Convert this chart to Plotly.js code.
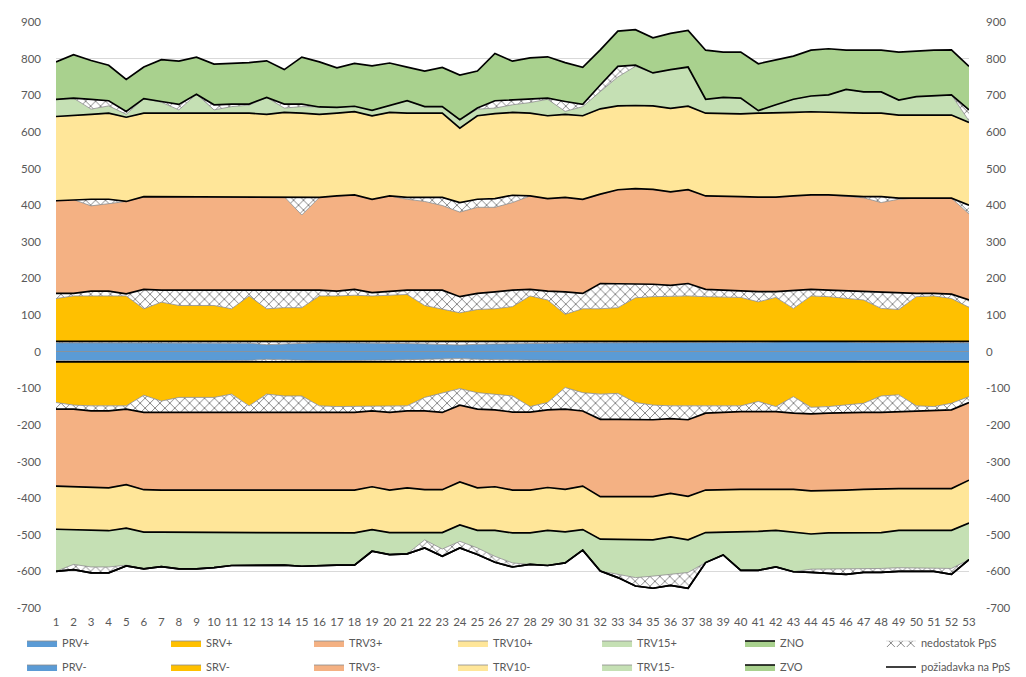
<!DOCTYPE html>
<html><head><meta charset="utf-8">
<script src="https://cdn.plot.ly/plotly-3.0.1.min.js"></script>
<style>html,body{margin:0;padding:0;background:#fff}#chart{width:1026px;height:677px}</style>
</head><body><div id="chart"></div>
<script>
// ---- DATA ----
const categories = [1,2,3,4,5,6,7,8,9,10,11,12,13,14,15,16,17,18,19,20,21,22,23,24,25,26,27,28,29,30,31,32,33,34,35,36,37,38,39,40,41,42,43,44,45,46,47,48,49,50,51,52,53];
const yTicks = [-700,-600,-500,-400,-300,-200,-100,0,100,200,300,400,500,600,700,800,900];
const yTickText = ['-700','-600','-500','-400','-300','-200','-100','0','100','200','300','400','500','600','700','800','900'];

// positive side: available amounts and requirements
const prvPlus = [24,24,24,24,24,24,24,24,24,24,24,23,19,21,23,24,24,24,24,24,22,21,20,18,20,21,22,22,23,24,24,24,24,24,24,24,24,24,24,24,25,26,28,28,27,26,25,25,24,24,24,24,24];
const prvPlusReq = [28,28,28,28,28,28,28,28,28,28,28,28,28,28,28,28,28,28,28,28,28,28,28,28,28,28,28,28,28,28,28,28,28,28,28,28,28,28,28,28,28,28,28,28,28,28,28,28,28,28,28,28,28];
const srvPlus = [117,124,124,124,124,89,107,98,98,98,89,124,89,92,92,124,124,126,124,126,128,98,89,78,87,89,95,124,113,74,89,89,92,119,122,124,124,122,122,120,108,120,90,124,122,117,113,90,87,122,124,117,93];
const srvPlusReq = [131,131,137,137,130,142,140,140,140,140,140,140,140,140,140,140,137,142,133,137,140,140,140,122,131,135,140,142,137,135,131,158,158,158,156,153,158,142,140,136,136,136,138,142,140,138,138,136,133,131,131,129,113];
const trv3Plus = [253,256,233,238,252,253,255,255,255,255,255,255,255,255,205,253,260,258,255,260,248,242,231,231,235,231,239,255,253,258,257,244,256,259,259,255,256,255,255,259,258,258,259,258,260,259,254,243,255,260,260,262,235];
const trv3PlusReq = [253,256,251,251,252,253,255,255,255,255,255,255,255,255,255,253,260,258,255,260,253,253,253,257,257,255,259,255,253,258,257,244,256,259,259,255,256,255,255,259,258,258,259,258,260,259,257,259,258,260,260,262,259];
const trv10Plus = [230,229,232,235,230,228,228,228,228,228,228,228,225,230,228,227,226,227,228,228,230,230,230,203,228,232,226,226,226,227,228,233,229,227,228,228,228,226,226,226,229,229,228,227,225,226,228,228,227,227,227,227,226];
const trv10PlusReq = [230,229,232,235,230,228,228,228,228,228,228,228,225,230,228,227,226,227,228,228,230,230,230,203,228,232,226,226,226,227,228,233,229,227,228,228,228,226,226,226,229,229,228,227,225,226,228,228,227,227,227,227,226];
const trv15Plus = [47,48,14,20,8,40,30,9,52,9,18,22,46,12,18,20,16,15,15,20,34,18,18,23,18,15,21,29,45,8,25,47,79,107,90,106,107,38,45,43,7,23,36,43,48,65,58,58,41,50,52,55,4];
const trv15PlusReq = [47,48,41,34,16,40,32,24,52,23,25,25,46,23,25,20,16,15,15,20,34,18,18,23,21,35,34,38,48,35,31,65,108,110,90,106,107,38,45,43,7,23,36,43,48,65,58,58,41,50,52,55,34];
const zno = [102,119,106,97,87,86,114,118,101,111,111,113,100,94,128,123,108,117,121,115,92,97,107,122,101,129,106,113,113,106,101,96,96,97,96,99,100,134,124,126,128,123,118,125,126,107,114,114,131,125,125,123,119];

// negative side
const prvMinus = [-25,-25,-25,-25,-25,-25,-25,-25,-25,-25,-25,-24,-21,-23,-25,-25,-25,-25,-25,-23,-22,-21,-20,-19,-21,-22,-22,-23,-24,-25,-25,-25,-25,-25,-25,-25,-25,-25,-25,-25,-25,-26,-28,-28,-27,-26,-25,-25,-25,-25,-25,-25,-25];
const prvMinusReq = [-28,-28,-28,-28,-28,-28,-28,-28,-28,-28,-28,-28,-28,-28,-28,-28,-28,-28,-28,-28,-28,-28,-28,-28,-28,-28,-28,-28,-28,-28,-28,-28,-28,-28,-28,-28,-28,-28,-28,-28,-28,-28,-28,-28,-28,-28,-28,-28,-28,-28,-28,-28,-28];
const srvMinus = [-111,-118,-120,-120,-120,-91,-107,-97,-97,-97,-88,-120,-88,-93,-93,-120,-122,-122,-120,-122,-120,-97,-86,-73,-84,-88,-93,-122,-111,-70,-84,-88,-86,-111,-118,-120,-120,-122,-122,-120,-108,-122,-95,-124,-122,-117,-113,-93,-90,-120,-122,-113,-95];
const srvMinusReq = [-129,-129,-134,-134,-129,-138,-138,-138,-138,-138,-138,-138,-138,-138,-138,-138,-136,-138,-134,-138,-134,-134,-138,-118,-129,-131,-137,-137,-131,-129,-134,-157,-157,-158,-158,-155,-158,-140,-137,-136,-136,-136,-140,-142,-140,-138,-138,-138,-136,-133,-133,-131,-111];
const trv3Minus = [-210,-212,-210,-210,-206,-211,-212,-212,-212,-212,-212,-212,-212,-212,-212,-212,-214,-212,-207,-212,-210,-215,-211,-210,-215,-210,-213,-213,-212,-219,-205,-211,-211,-210,-210,-204,-209,-210,-211,-212,-212,-212,-208,-210,-212,-212,-210,-208,-210,-213,-213,-215,-212];
const trv3MinusReq = [-210,-212,-210,-210,-206,-211,-212,-212,-212,-212,-212,-212,-212,-212,-212,-212,-214,-212,-207,-212,-210,-215,-211,-210,-215,-210,-213,-213,-212,-219,-205,-211,-211,-210,-210,-204,-209,-210,-211,-212,-212,-212,-208,-210,-212,-212,-210,-208,-210,-213,-213,-215,-212];
const trv10Minus = [-118,-117,-117,-117,-119,-116,-115,-115,-115,-115,-115,-115,-115,-117,-117,-117,-117,-117,-117,-116,-122,-117,-117,-117,-116,-119,-117,-117,-117,-116,-119,-116,-116,-118,-118,-119,-119,-116,-117,-117,-115,-112,-118,-118,-115,-116,-118,-120,-114,-114,-114,-114,-117];
const trv10MinusReq = [-118,-117,-117,-117,-119,-116,-115,-115,-115,-115,-115,-115,-115,-117,-117,-117,-117,-117,-117,-116,-122,-117,-117,-117,-116,-119,-117,-117,-117,-116,-119,-116,-116,-118,-118,-119,-119,-116,-117,-117,-115,-112,-118,-118,-115,-116,-118,-120,-114,-114,-114,-114,-117];
const trv15Minus = [-115,-95,-99,-99,-101,-100,-94,-100,-100,-97,-91,-91,-90,-88,-91,-89,-88,-88,-59,-60,-58,-20,-45,-45,-48,-71,-82,-86,-96,-85,-56,-87,-96,-103,-99,-102,-89,-82,-62,-104,-106,-100,-107,-96,-99,-100,-100,-98,-102,-102,-102,-104,-100];
const trv15MinusReq = [-115,-109,-115,-115,-103,-100,-94,-100,-100,-97,-91,-91,-90,-88,-91,-89,-88,-88,-59,-60,-58,-42,-65,-63,-66,-87,-93,-86,-96,-85,-56,-87,-105,-126,-132,-132,-132,-82,-62,-104,-106,-100,-107,-105,-111,-114,-109,-109,-112,-112,-112,-120,-100];
const zvo = [0,0,0,0,0,0,0,0,0,0,0,0,0,0,0,0,0,0,0,0,0,0,0,0,0,0,0,0,0,0,0,0,0,0,0,0,0,0,0,0,0,0,0,0,0,0,0,0,0,0,0,0,0];

// ---- BUILD ----
const C = {prv:'#5B9BD5', srv:'#FFC000', trv3:'#F4B183', trv10:'#FFE699', trv15:'#C5E0B4', zno:'#A9D18E'};
const HATCH = {shape:'x', fgcolor:'#808080', bgcolor:'#ffffff', size:7, solidity:0.25};
const shortPos = (req, act) => req.map((r,i) => Math.max(r - act[i], 0));
const shortNeg = (req, act) => req.map((r,i) => Math.min(r - act[i], 0));

function area(name, y, grp, color, lineColor, lineWidth, leg, lg) {
  return {type:'scatter', mode:'lines', x:categories, y:y, stackgroup:grp, name:name,
    fillcolor:color, line:{color:lineColor, width:lineWidth, shape:'linear'},
    legend:leg, legendgroup:lg, showlegend:true, hoverinfo:'skip'};
}
// shortage (nedostatok) band; its upper edge is the cumulative requirement (black line)
function hatch(y, grp) {
  return {type:'scatter', mode:'lines', x:categories, y:y, stackgroup:grp, name:'nedostatok PpS',
    fillcolor:'#ffffff', fillpattern:HATCH, line:{color:'#000000', width:1.7, shape:'linear'},
    showlegend:false, hoverinfo:'skip'};
}
const G = '#8c8c8c';
const traces = [
  area('PRV+', prvPlus, 'pos', C.prv, G, 0.8, 'legend', 'a1'),
  hatch(shortPos(prvPlusReq, prvPlus), 'pos'),
  area('SRV+', srvPlus, 'pos', C.srv, G, 0.8, 'legend2', 'b1'),
  hatch(shortPos(srvPlusReq, srvPlus), 'pos'),
  area('TRV3+', trv3Plus, 'pos', C.trv3, G, 0.8, 'legend3', 'c1'),
  hatch(shortPos(trv3PlusReq, trv3Plus), 'pos'),
  area('TRV10+', trv10Plus, 'pos', C.trv10, G, 0.8, 'legend4', 'd1'),
  hatch(shortPos(trv10PlusReq, trv10Plus), 'pos'),
  area('TRV15+', trv15Plus, 'pos', C.trv15, G, 0.8, 'legend5', 'e1'),
  hatch(shortPos(trv15PlusReq, trv15Plus), 'pos'),
  area('ZNO', zno, 'pos', C.zno, '#000000', 1.7, 'legend6', 'f1'),

  area('PRV-', prvMinus, 'neg', C.prv, G, 0.8, 'legend', 'a2'),
  hatch(shortNeg(prvMinusReq, prvMinus), 'neg'),
  area('SRV-', srvMinus, 'neg', C.srv, G, 0.8, 'legend2', 'b2'),
  hatch(shortNeg(srvMinusReq, srvMinus), 'neg'),
  area('TRV3-', trv3Minus, 'neg', C.trv3, G, 0.8, 'legend3', 'c2'),
  hatch(shortNeg(trv3MinusReq, trv3Minus), 'neg'),
  area('TRV10-', trv10Minus, 'neg', C.trv10, G, 0.8, 'legend4', 'd2'),
  hatch(shortNeg(trv10MinusReq, trv10Minus), 'neg'),
  area('TRV15-', trv15Minus, 'neg', C.trv15, G, 0.8, 'legend5', 'e2'),
  hatch(shortNeg(trv15MinusReq, trv15Minus), 'neg'),
  area('ZVO', zvo, 'neg', C.zno, '#000000', 1.7, 'legend6', 'f2'),

  {type:'scatter', mode:'lines', x:[null], y:[null], fill:'toself', fillcolor:'#ffffff', fillpattern:HATCH,
   line:{color:'#bfbfbf', width:0.5}, name:'nedostatok PpS', legend:'legend7', legendgroup:'g1', hoverinfo:'skip'},
  {type:'scatter', mode:'lines', x:[null], y:[null], yaxis:'y2', line:{color:'#000000', width:1.5},
   name:'požiadavka na PpS', legend:'legend7', legendgroup:'g2', hoverinfo:'skip'}
];

const legendX = [-0.0372, 0.1205, 0.2771, 0.4348, 0.5926, 0.7492, 0.9036];
const layout = {
  width:1026, height:677,
  margin:{l:56, r:57, t:22, b:69, autoexpand:false},
  paper_bgcolor:'#ffffff', plot_bgcolor:'#ffffff',
  font:{family:'Lato, "Open Sans", sans-serif', color:'#595959', size:11.5},
  showlegend:true,
  xaxis:{type:'linear', range:[1,53], tickmode:'array', tickvals:categories, ticktext:categories.map(String),
    showgrid:false, zeroline:false, showline:false, ticks:'', ticklabelstandoff:5,
    tickfont:{size:11.5, color:'#595959'}, fixedrange:true},
  yaxis:{range:[-700,900], tickmode:'array', tickvals:yTicks, ticktext:yTickText, showgrid:true, gridcolor:'#d9d9d9',
    gridwidth:1, zeroline:true, zerolinecolor:'#8c8c8c', zerolinewidth:0.8, zerolinelayer:'above traces',
    showline:false, ticks:'', ticklabelstandoff:14, tickfont:{size:11.5, color:'#595959'}},
  yaxis2:{overlaying:'y', side:'right', range:[-700,900], tickmode:'array', tickvals:yTicks, ticktext:yTickText,
    showgrid:false, zeroline:false, showline:false, ticks:'', ticklabelstandoff:16, tickfont:{size:11.5, color:'#595959'}}
};
const legKeys = ['legend','legend2','legend3','legend4','legend5','legend6','legend7'];
legKeys.forEach((k, i) => {
  layout[k] = {orientation:'v', x:legendX[i], xanchor:'left', y:-0.035, yanchor:'top', traceorder:'grouped',
    tracegroupgap:5, bgcolor:'rgba(0,0,0,0)', borderwidth:0, font:{size:11, color:'#595959'}};
});

Plotly.newPlot('chart', traces, layout, {staticPlot:true, displayModeBar:false});
</script></body></html>
